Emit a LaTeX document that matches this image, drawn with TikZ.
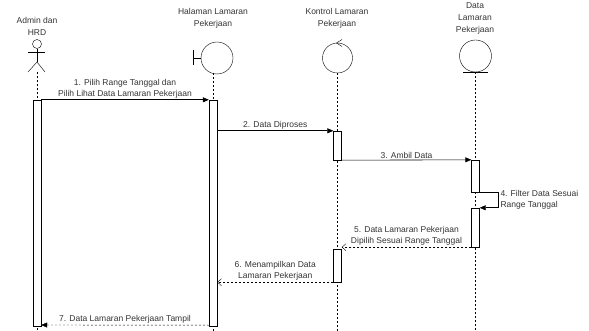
\documentclass[tikz,border=0pt]{standalone}
\usepackage{fontspec}
\setmainfont{Liberation Sans}
\usetikzlibrary{arrows.meta, positioning}
\tikzset{
    bar/.style      = {draw, fill=white, minimum width=8pt, inner sep=0pt},
    life/.style     = {dash pattern=on 2pt off 2pt, thin},
    call/.style     = {-{Triangle[length=6pt,width=5pt]}, semithick},
    back/.style     = {-{Straight Barb[length=4pt,width=7pt]}, thin, dash pattern=on 2pt off 2pt},
    backfill/.style = {-{Triangle[length=6pt,width=5pt]}, thin, dash pattern=on 2pt off 2pt},
    msgtext/.style  = {font=\fontsize{8.5}{11}\selectfont, align=center, text=black!80, inner sep=1.5pt},
    headtext/.style = {font=\fontsize{8.5}{12}\selectfont, align=center, text=black!80}
}

\begin{document}
\begin{tikzpicture}[x=1pt, y=-1pt]
	\useasboundingbox (0,0) rectangle (589,331);
	% headers
	\node (hAct) [headtext] at (37,26)  {Admin dan\\HRD};
	\node (hBnd) [headtext] at (213,18) {Halaman Lamaran\\Pekerjaan};
	\node (hCtl) [headtext] at (337,18) {Kontrol Lamaran\\Pekerjaan};
	\node (hEnt) [headtext] at (475,18) {Data\\Lamaran\\Pekerjaan};

	% actor
	\node (head) [circle, draw, thin, minimum size=9pt, inner sep=0pt] at (37,44) {};
	\draw [thin] (head.south) -- (37,62) coordinate (hip);
	\draw [thin] (28,52) -- (45,52);
	\draw [thin] (28,72) -- (hip) -- (45,72);
	% boundary
	\node (bnd) [circle, draw, thin, minimum size=32pt, inner sep=0pt] at (217,58) {};
	\draw [thin] (bnd.west) -- ++(-8,0) coordinate (stem);
	\draw [thin] (stem) ++(0,-7.5) -- ++(0,15);
	% control
	\node (ctl) [circle, draw, thin, minimum size=30pt, inner sep=0pt] at (337.5,58) {};
	\draw [thin] (342,39.5) -- (336.5,43) -- (342,46.5);
	% entity
	\node (ent) [circle, draw, thin, minimum size=32pt, inner sep=0pt] at (475.5,56) {};
	\draw [thin] (463,72) -- (488,72);

	% lifelines
	\draw [life] (37,72) -- (37,331);
	\draw [life] (213,73) -- (213,331);
	\draw [life] (ctl.south) -- (337.5,331);
	\draw [life] (ent.south) -- (475.5,331);

	% activations
	\node (actA) [bar, minimum height=226pt] at (37,213) {};
	\node (bndA) [bar, minimum height=226pt] at (213,213) {};
	\node (ctlA) [bar, minimum height=29pt]  at (337.5,145.5) {};
	\node (ctlB) [bar, minimum height=33pt]  at (337.5,265.5) {};
	\node (entA) [bar, minimum height=32pt]  at (475.5,176) {};
	\node (entB) [bar, minimum height=39pt]  at (475.5,227.5) {};

	% messages
	\draw [call] (actA.north east) -- node[msgtext, above]{1. Pilih Range Tanggal dan\\Pilih Lihat Data Lamaran Pekerjaan} (bndA.north west);
	\draw [call] (bndA.east |- ctlA.north west) -- node[msgtext, above]{2. Data Diproses} (ctlA.north west);
	\draw [call] (ctlA.south east) -- node[msgtext, above]{3. Ambil Data} (entA.north west);
	\draw [call] (entA.south east) -- ++(19,0) |- node[msgtext, right, pos=0.25, align=left]{4. Filter Data Sesuai\\Range Tanggal} (entB.north east);
	\draw [back] (entB.south west) -- node[msgtext, above]{5. Data Lamaran Pekerjaan\\Dipilih Sesuai Range Tanggal} (entB.south west -| ctlB.east);
	\draw [back] (ctlB.south west) -- node[msgtext, above]{6. Menampilkan Data\\Lamaran Pekerjaan} (ctlB.south west -| bndA.east);
	\draw [backfill] (bndA.south west) ++(0,-1) -- node[msgtext, above]{7. Data Lamaran Pekerjaan Tampil} (actA.south east |- 0,325);
\end{tikzpicture}
\end{document}
